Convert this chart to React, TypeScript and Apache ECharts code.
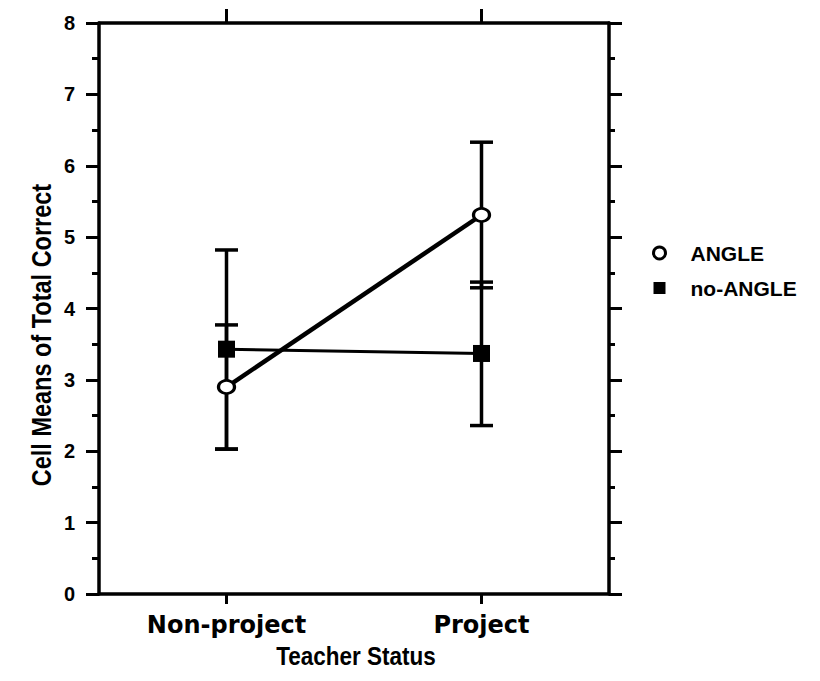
import React, { useEffect, useRef } from "react";
import * as echarts from "echarts";

const categories = ["Non-project", "Project"];
const seriesNames = ["ANGLE", "no-ANGLE"];
const angleMeans = [2.9, 5.31];
const noAngleMeans = [3.43, 3.37];
const angleLow = [2.03, 4.29];
const angleHigh = [3.77, 6.33];
const noAngleLow = [2.03, 2.36];
const noAngleHigh = [4.82, 4.37];
const yMin = 0;
const yMax = 8;
const yStep = 1;

const xTitle = "Teacher Status";
const yTitle = "Cell Means of Total Correct";

export default function App() {
  const ref = useRef<HTMLDivElement>(null);

  useEffect(() => {
    if (!ref.current) return;
    const chart = echarts.init(ref.current, null, { renderer: "svg" });

    const errData: number[][] = [];
    categories.forEach((_, i) => {
      errData.push([i, angleLow[i], angleHigh[i]]);
      errData.push([i, noAngleLow[i], noAngleHigh[i]]);
    });

    const axisLine = { show: true, onZero: false, lineStyle: { color: "#000", width: 3.5 } };

    const option: any = {
      animation: false,
      backgroundColor: "#fff",
      grid: { left: 99, right: 211, top: 23, bottom: 87, containLabel: false },
      legend: {
        orient: "vertical",
        left: 647,
        top: 237,
        itemWidth: 12,
        itemHeight: 12,
        itemGap: 13,
        selectedMode: false,
        textStyle: {
          fontFamily: "Liberation Sans",
          fontWeight: "bold",
          fontSize: 21,
          color: "#000",
          lineHeight: 22,
          padding: [0, 0, 0, 20],
        },
        data: [
          {
            name: seriesNames[0],
            icon: "circle",
            itemStyle: { color: "#fff", borderColor: "#000", borderWidth: 3 },
          },
          {
            name: seriesNames[1],
            icon: "rect",
            itemStyle: { color: "#000", borderWidth: 0 },
          },
        ],
      },
      xAxis: [
        {
          type: "category",
          data: categories,
          position: "bottom",
          boundaryGap: true,
          axisLine,
          axisTick: { show: true, alignWithLabel: true, length: 10, lineStyle: { color: "#000", width: 3 } },
          axisLabel: {
            color: "#000",
            fontFamily: "DejaVu Sans",
            fontWeight: "bold",
            fontSize: 24,
            margin: 19,
          },
          splitLine: { show: false },
        },
        {
          type: "category",
          data: categories,
          position: "top",
          boundaryGap: true,
          axisLine,
          axisTick: { show: true, alignWithLabel: true, length: 14, lineStyle: { color: "#000", width: 3 } },
          axisLabel: { show: false },
          splitLine: { show: false },
        },
      ],
      yAxis: [
        {
          type: "value",
          min: yMin,
          max: yMax,
          interval: yStep,
          position: "left",
          axisLine,
          axisTick: { show: true, length: 13, lineStyle: { color: "#000", width: 3 } },
          minorTick: { show: true, splitNumber: 2, length: 7, lineStyle: { color: "#000", width: 3 } },
          axisLabel: {
            color: "#000",
            fontFamily: "Liberation Sans",
            fontWeight: "bold",
            fontSize: 20,
            margin: 24,
          },
          splitLine: { show: false },
          minorSplitLine: { show: false },
        },
        {
          type: "value",
          min: yMin,
          max: yMax,
          interval: yStep,
          position: "right",
          axisLine,
          axisTick: { show: true, length: 13, lineStyle: { color: "#000", width: 3 } },
          minorTick: { show: true, splitNumber: 2, length: 6, lineStyle: { color: "#000", width: 3 } },
          axisLabel: { show: false },
          splitLine: { show: false },
          minorSplitLine: { show: false },
        },
      ],
      graphic: [
        {
          type: "text",
          x: 41,
          y: 335,
          rotation: Math.PI / 2,
          scaleY: 1.15,
          style: {
            text: yTitle,
            fill: "#000",
            font: "bold 23.5px 'Liberation Sans'",
            align: "center",
            verticalAlign: "middle",
          },
        },
        {
          type: "text",
          x: 356,
          y: 656,
          scaleY: 1.15,
          style: {
            text: xTitle,
            fill: "#000",
            font: "bold 22.5px 'Liberation Sans'",
            align: "center",
            verticalAlign: "middle",
          },
        },
      ],
      series: [
        {
          type: "custom",
          name: "errors",
          xAxisIndex: 0,
          yAxisIndex: 0,
          z: 1,
          silent: true,
          data: errData,
          renderItem: (params: any, api: any) => {
            const x = api.value(0);
            const lo = api.coord([x, api.value(1)]);
            const hi = api.coord([x, api.value(2)]);
            const w = 11.5;
            const st = { stroke: "#000", lineWidth: 3.5 };
            return {
              type: "group",
              children: [
                { type: "line", shape: { x1: lo[0], y1: lo[1], x2: hi[0], y2: hi[1] }, style: st },
                { type: "line", shape: { x1: lo[0] - w, y1: lo[1], x2: lo[0] + w, y2: lo[1] }, style: st },
                { type: "line", shape: { x1: hi[0] - w, y1: hi[1], x2: hi[0] + w, y2: hi[1] }, style: st },
              ],
            };
          },
        },
        {
          type: "line",
          name: seriesNames[1],
          xAxisIndex: 0,
          yAxisIndex: 0,
          z: 3,
          data: noAngleMeans,
          symbol: "rect",
          symbolSize: 17,
          lineStyle: { color: "#000", width: 3 },
          itemStyle: { color: "#000" },
        },
        {
          type: "line",
          name: seriesNames[0],
          xAxisIndex: 0,
          yAxisIndex: 0,
          z: 4,
          data: angleMeans,
          symbol: "circle",
          symbolSize: [16, 13],
          lineStyle: { color: "#000", width: 4.5 },
          itemStyle: { color: "#fff", borderColor: "#000", borderWidth: 3 },
        },
      ],
    };

    chart.setOption(option);
    return () => chart.dispose();
  }, []);

  return (
    <div
      ref={ref}
      style={{ position: "fixed", left: 0, top: 0, width: 820, height: 681, background: "#fff" }}
    />
  );
}
